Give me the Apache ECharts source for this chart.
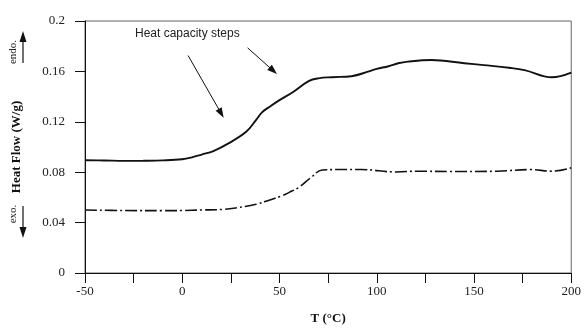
<!DOCTYPE html>
<html>
<head>
<meta charset="utf-8">
<script src="https://cdn.jsdelivr.net/npm/echarts@6/dist/echarts.min.js"></script>
<style>
  html, body { margin: 0; padding: 0; background: #fff; }
  #chart { width: 584px; height: 330px; }
</style>
</head>
<body>
<div id="chart"></div>
<script>
// upper trace (solid)
var solidT  = [-50, -40, -30, -20, -10, 0, 5, 10, 16, 24, 33, 38, 41, 45, 50, 57, 65, 70, 77, 87, 96, 100, 106, 111, 116, 128, 145, 155, 168, 176, 190, 200];
var solidHF = [0.0895, 0.0893, 0.0890, 0.0891, 0.0894, 0.0903, 0.0918, 0.0940, 0.0968, 0.1031, 0.1123, 0.1215, 0.1275, 0.1320, 0.1372, 0.1437, 0.1523, 0.1545, 0.1554, 0.1562, 0.1600, 0.1620, 0.1641, 0.1665, 0.1678, 0.1690, 0.1665, 0.1650, 0.1629, 0.1610, 0.1553, 0.1590];

// lower trace (dash-dot)
var dashT  = [-50, -30, -10, 0, 10, 21, 28, 38, 45, 51, 55, 60, 66, 72, 81, 92, 110, 121, 137, 162, 179, 190, 200];
var dashHF = [0.0500, 0.0496, 0.0495, 0.0496, 0.0500, 0.0505, 0.0518, 0.0545, 0.0580, 0.0611, 0.0640, 0.0680, 0.0755, 0.0818, 0.0821, 0.0821, 0.0802, 0.0808, 0.0805, 0.0808, 0.0821, 0.0808, 0.0835];

// annotation arrows [fromT, fromHF, toT, toHF]
var stepArrows = [
  [3, 0.1726, 20, 0.1267],
  [33.6, 0.1787, 46.8, 0.1605]
];

var xTicks = { min: -50, max: 200, step: 25 };
var yTicks = { min: 0, max: 0.2, step: 0.04 };

var serif = '"Liberation Serif", "DejaVu Serif", serif';
var ink = '#111';

var chart = echarts.init(document.getElementById('chart'));

var option = {
  animation: false,
  backgroundColor: '#fff',
  grid: {
    left: 85, right: 11, top: 21, bottom: 53,
    show: true, borderColor: '#666', borderWidth: 1
  },
  xAxis: {
    type: 'value',
    min: xTicks.min, max: xTicks.max, interval: xTicks.step,
    name: 'T (\u00B0C)',
    nameLocation: 'middle',
    nameGap: 39,
    nameTextStyle: { fontFamily: serif, fontWeight: 'bold', fontSize: 13, color: ink },
    axisLine: { onZero: false, lineStyle: { color: ink, width: 1 } },
    axisTick: { show: true, inside: false, length: 10, lineStyle: { color: ink } },
    axisLabel: {
      margin: 12,
      fontFamily: serif, fontSize: 13, color: '#222',
      formatter: function (v) { return v % 50 === 0 ? String(v) : ''; }
    },
    splitLine: { show: false }
  },
  yAxis: {
    type: 'value',
    min: yTicks.min, max: yTicks.max, interval: yTicks.step,
    name: 'Heat Flow (W/g)',
    nameLocation: 'middle',
    nameGap: 62,
    nameRotate: 90,
    nameTextStyle: { fontFamily: serif, fontWeight: 'bold', fontSize: 13, color: ink },
    axisLine: { show: true, onZero: false, lineStyle: { color: ink, width: 1 } },
    axisTick: { show: true, inside: false, length: 10, lineStyle: { color: ink } },
    axisLabel: {
      margin: 20,
      fontFamily: serif, fontSize: 13, color: '#222',
      formatter: function (v) { return String(+v.toFixed(2)); }
    },
    splitLine: { show: false }
  },
  series: [
    {
      name: 'upper',
      type: 'line',
      data: solidT.map(function (t, i) { return [t, solidHF[i]]; }),
      smooth: 0.4,
      showSymbol: false,
      lineStyle: { color: ink, width: 1.9 },
      markLine: {
        silent: true,
        symbol: ['none', 'triangle'],
        symbolSize: [7, 10],
        label: { show: false },
        lineStyle: { color: ink, width: 1, type: 'solid' },
        data: stepArrows.map(function (a) {
          return [{ coord: [a[0], a[1]] }, { coord: [a[2], a[3]] }];
        })
      }
    },
    {
      name: 'lower',
      type: 'line',
      data: dashT.map(function (t, i) { return [t, dashHF[i]]; }),
      smooth: 0.4,
      showSymbol: false,
      lineStyle: { color: ink, width: 1.6, type: [12, 3, 2, 3] }
    }
  ],
  graphic: [
    { type: 'text', left: 135, top: 28,
      style: { text: 'Heat capacity steps', font: '12px "Liberation Sans", Arial, sans-serif', fill: '#222' } },
    // endo. arrow
    { type: 'line', shape: { x1: 23, y1: 63, x2: 23, y2: 40 }, style: { stroke: ink, lineWidth: 1.2 } },
    { type: 'polygon', shape: { points: [[23, 31], [19.5, 42], [26.5, 42]] }, style: { fill: ink } },
    { type: 'text', x: 13, y: 52, rotation: Math.PI / 2,
      style: { text: 'endo.', font: '11px ' + serif, fill: '#222', align: 'center', verticalAlign: 'middle' } },
    // exo. arrow
    { type: 'line', shape: { x1: 23, y1: 206, x2: 23, y2: 229 }, style: { stroke: ink, lineWidth: 1.2 } },
    { type: 'polygon', shape: { points: [[23, 238], [19.5, 227], [26.5, 227]] }, style: { fill: ink } },
    { type: 'text', x: 13, y: 214, rotation: Math.PI / 2,
      style: { text: 'exo.', font: '11px ' + serif, fill: '#222', align: 'center', verticalAlign: 'middle' } }
  ]
};

chart.setOption(option);
</script>
</body>
</html>
